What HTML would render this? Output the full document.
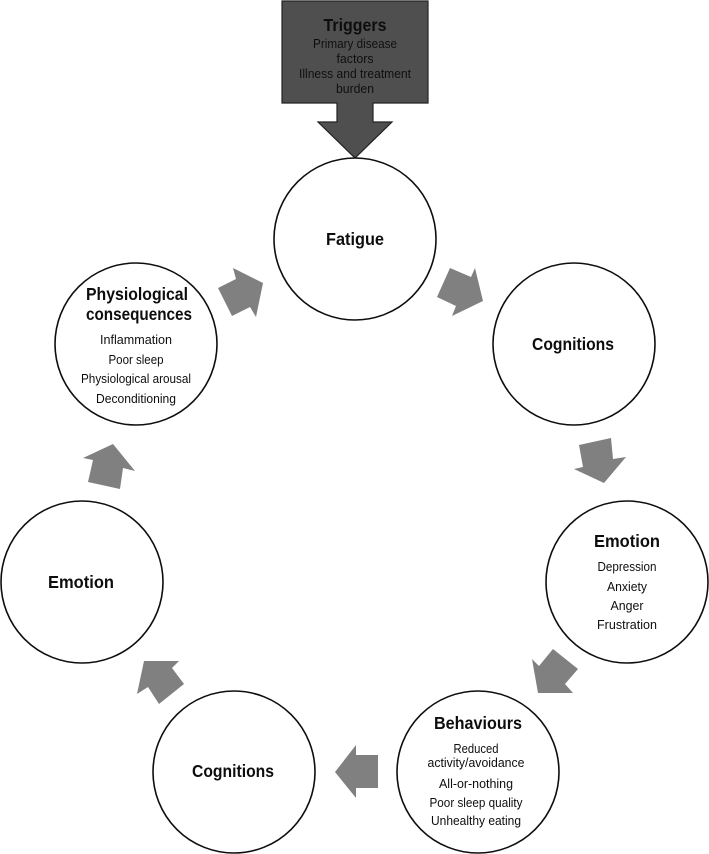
<!DOCTYPE html>
<html><head><meta charset="utf-8"><style>
html,body{margin:0;padding:0;background:#fff}
svg{display:block}
text{font-family:"Liberation Sans",sans-serif;text-anchor:middle;fill:#111}
.h{font-weight:bold;font-size:17.5px}
.s{font-size:12.5px}
</style></head><body>
<svg width="709" height="854" viewBox="0 0 709 854" xmlns="http://www.w3.org/2000/svg">
<defs><filter id="b" x="0" y="0" width="100%" height="100%" filterUnits="userSpaceOnUse" primitiveUnits="userSpaceOnUse"><feGaussianBlur stdDeviation="0.35"/></filter></defs>
<rect width="709" height="854" fill="#fff"/>
<g filter="url(#b)">
<polygon points="282,1 428,1 428,103 373,103 373,122 392,122 355,158 318,122 337,122 337,103 282,103" fill="#505050" stroke="#222" stroke-width="1.2"/>
<g fill="#fff" stroke="#111" stroke-width="1.6">
<circle cx="355" cy="239" r="81"/>
<circle cx="574" cy="344" r="81"/>
<circle cx="627" cy="582" r="81"/>
<circle cx="478" cy="772" r="81"/>
<circle cx="234" cy="772" r="81"/>
<circle cx="82" cy="582" r="81"/>
<circle cx="136" cy="344" r="81"/>
</g>
<g fill="#808080">
<polygon points="233,268 263,283 256,317 250,307 232,316 218,288 236,279"/>
<polygon points="450,268 471,277 475,268 483,301 452,316 456,306 437,297"/>
<polygon points="579,445 611,438 613,459 626,457 604,483 574,469 583,467"/>
<polygon points="553,649 578,669 565,684 573,693 538,693 532,659 539,666"/>
<polygon points="335,772 356,745 356,755 378,755 378,788 356,788 356,798"/>
<polygon points="144,661 179,661 172,668 184,684 159,704 148,687 137,694"/>
<polygon points="113,444 135,471 123,468 120,489 88,482 93,460 83,458"/>
</g>
<text class="h" x="355" y="31" textLength="63" lengthAdjust="spacingAndGlyphs">Triggers</text>
<g class="s">
<text x="355" y="48" textLength="84" lengthAdjust="spacingAndGlyphs">Primary disease</text>
<text x="355" y="63" textLength="37" lengthAdjust="spacingAndGlyphs">factors</text>
<text x="355" y="78" textLength="112" lengthAdjust="spacingAndGlyphs">Illness and treatment</text>
<text x="355" y="93" textLength="38" lengthAdjust="spacingAndGlyphs">burden</text>
</g>
<text class="h" x="355" y="245" textLength="58" lengthAdjust="spacingAndGlyphs">Fatigue</text>
<text class="h" x="573" y="350" textLength="82" lengthAdjust="spacingAndGlyphs">Cognitions</text>
<text class="h" x="627" y="547" textLength="66" lengthAdjust="spacingAndGlyphs">Emotion</text>
<g class="s">
<text x="627" y="571" textLength="59" lengthAdjust="spacingAndGlyphs">Depression</text>
<text x="627" y="591" textLength="40" lengthAdjust="spacingAndGlyphs">Anxiety</text>
<text x="627" y="610" textLength="33" lengthAdjust="spacingAndGlyphs">Anger</text>
<text x="627" y="629" textLength="60" lengthAdjust="spacingAndGlyphs">Frustration</text>
</g>
<text class="h" x="478" y="729" textLength="88" lengthAdjust="spacingAndGlyphs">Behaviours</text>
<g class="s">
<text x="476" y="753" textLength="45" lengthAdjust="spacingAndGlyphs">Reduced</text>
<text x="476" y="767" textLength="97" lengthAdjust="spacingAndGlyphs">activity/avoidance</text>
<text x="476" y="788" textLength="74" lengthAdjust="spacingAndGlyphs">All-or-nothing</text>
<text x="476" y="807" textLength="93" lengthAdjust="spacingAndGlyphs">Poor sleep quality</text>
<text x="476" y="825" textLength="90" lengthAdjust="spacingAndGlyphs">Unhealthy eating</text>
</g>
<text class="h" x="233" y="777" textLength="82" lengthAdjust="spacingAndGlyphs">Cognitions</text>
<text class="h" x="81" y="588" textLength="66" lengthAdjust="spacingAndGlyphs">Emotion</text>
<text class="h" x="137" y="300" textLength="102" lengthAdjust="spacingAndGlyphs">Physiological</text>
<text class="h" x="139" y="320" textLength="106" lengthAdjust="spacingAndGlyphs">consequences</text>
<g class="s">
<text x="136" y="344" textLength="72" lengthAdjust="spacingAndGlyphs">Inflammation</text>
<text x="136" y="364" textLength="55" lengthAdjust="spacingAndGlyphs">Poor sleep</text>
<text x="136" y="383" textLength="110" lengthAdjust="spacingAndGlyphs">Physiological arousal</text>
<text x="136" y="403" textLength="80" lengthAdjust="spacingAndGlyphs">Deconditioning</text>
</g>
</g>
</svg>
</body></html>
